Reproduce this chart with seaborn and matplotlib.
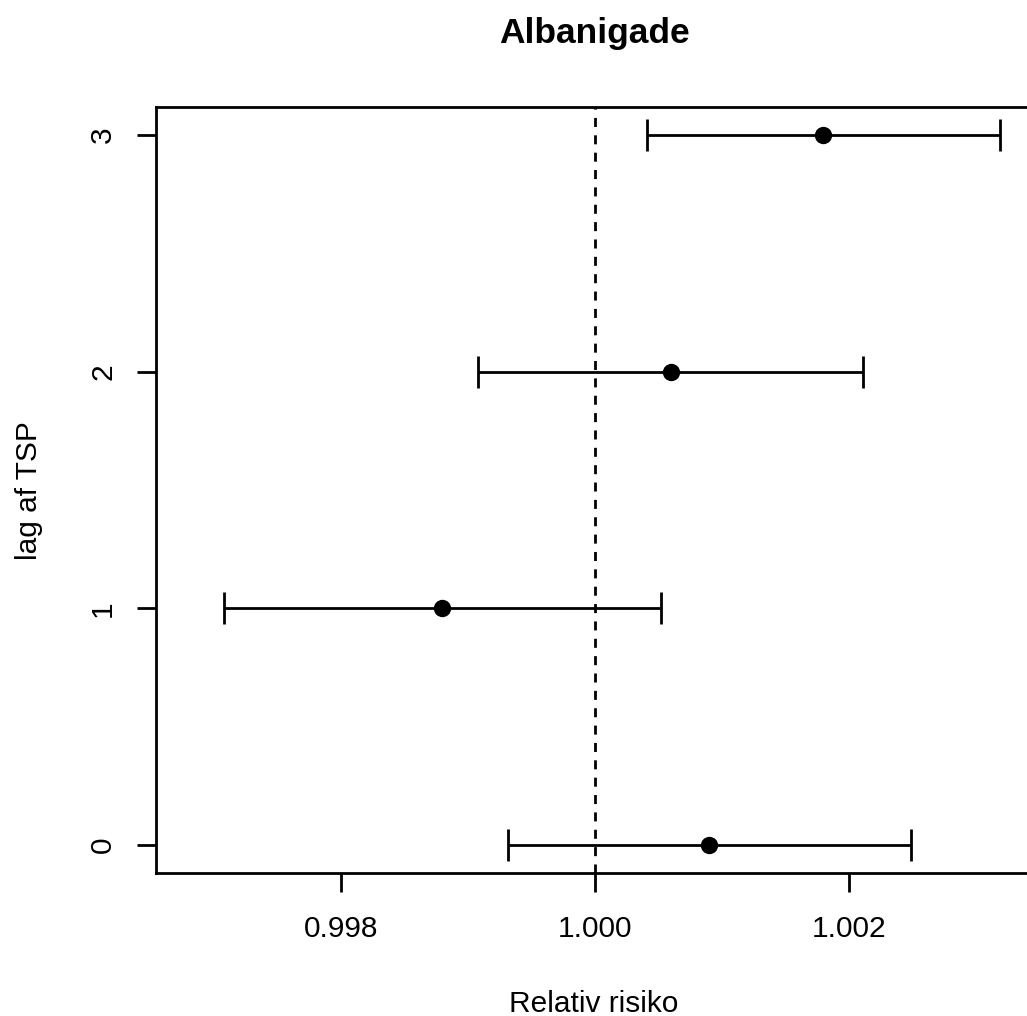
import matplotlib
matplotlib.use("Agg")
import matplotlib.pyplot as plt
import seaborn as sns
import pandas as pd

# ---- data ----
lags = [0, 1, 2, 3]
relative_risk = [1.000898, 0.998795, 1.000598, 1.001795]
ci_lower = [0.999315, 0.997079, 0.999079, 1.000409]
ci_upper = [1.002488, 1.000520, 1.002110, 1.003189]
x_ticks = [0.998, 1.000, 1.002]
x_tick_labels = ["0.998", "1.000", "1.002"]
title = "Albanigade"
x_label = "Relativ risiko"
y_label = "lag af TSP"

df = pd.DataFrame({"lag": lags, "rr": relative_risk, "lo": ci_lower, "hi": ci_upper})

sns.set_theme(style="white")
plt.rcParams["font.family"] = ["Liberation Sans", "DejaVu Sans"]
plt.rcParams["lines.scale_dashes"] = False
plt.rcParams["text.color"] = "black"

W, H = 1027, 1016
fig = plt.figure(figsize=(W / 100, H / 100), dpi=100)
left_px, right_px, top_px, bottom_px = 156, 1040, 107, 873
ax = fig.add_axes([left_px / W, 1 - bottom_px / H, (right_px - left_px) / W, (bottom_px - top_px) / H])

lw = 2.0
fs = 21.5

# reference line
ax.axvline(1.0, color="black", lw=lw, linestyle=(0, (6.5, 6.0)), zorder=1)

# confidence intervals
ax.errorbar(df["rr"], df["lag"], xerr=[df["rr"] - df["lo"], df["hi"] - df["rr"]],
            fmt="none", ecolor="black", elinewidth=lw, capsize=11.5, capthick=lw, zorder=2)

# points
sns.scatterplot(data=df, x="rr", y="lag", ax=ax, color="black", s=12.5 ** 2,
                edgecolor="black", linewidth=0, zorder=3, legend=False)

ax.set_xlim(1 - (595 - left_px) / 127000, 1 + (right_px - 595) / 127000)
ax.set_ylim(-(bottom_px - 845) / 236.67, 3 + (135 - top_px) / 236.67)

ax.set_xticks(x_ticks)
ax.set_xticklabels(x_tick_labels)
ax.set_yticks(lags)
ax.set_yticklabels([str(v) for v in lags], rotation=90, va="center")

ax.tick_params(axis="both", direction="out", length=14, width=lw, color="black",
               labelsize=fs, labelcolor="black", left=True, bottom=True)
ax.tick_params(axis="x", pad=16)
ax.tick_params(axis="y", pad=14)

for s in ax.spines.values():
    s.set_color("black")
    s.set_linewidth(lw)

ax.set_xlabel("")
ax.set_ylabel("")

fig.text(594 / W, 1 - 43 / H, title, ha="center", va="baseline", fontsize=25.5,
         fontweight="bold", color="black")
fig.text(594 / W, 1 - 1012 / H, x_label, ha="center", va="baseline", fontsize=fs, color="black")
fig.text(29 / W, 1 - 491 / H, y_label, ha="center", va="center", rotation=90, fontsize=fs,
         color="black")

fig.savefig("out.png", dpi=100, facecolor="white")
